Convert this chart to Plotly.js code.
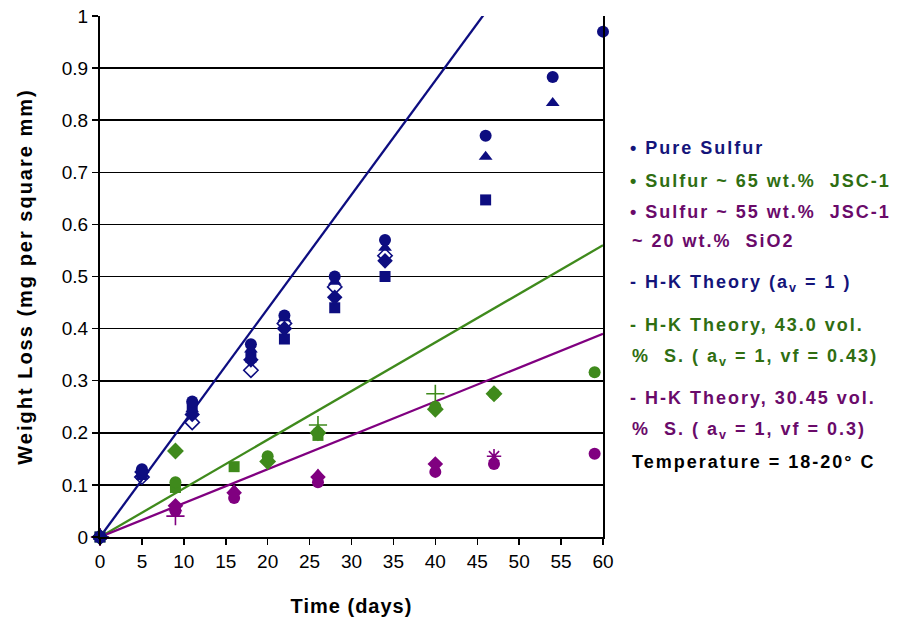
<!DOCTYPE html>
<html>
<head>
<meta charset="utf-8">
<script src="https://cdn.plot.ly/plotly-3.0.1.min.js"></script>
<style>
html,body{margin:0;padding:0;background:#fff;}
#chart{width:898px;height:622px;}
.annotation-text{letter-spacing:2px;}
.g-xtitle text{letter-spacing:1px;}
.g-ytitle text{letter-spacing:2px;}
</style>
</head>
<body>
<div id="chart"></div>
<script>
// ---- Data ----
// Pure Sulfur samples
const pureCircleDays = [0, 5, 11, 18, 22, 28, 34, 46, 54, 60];
const pureCircle     = [0, 0.13, 0.26, 0.37, 0.425, 0.50, 0.57, 0.77, 0.883, 0.97];
const pureTriDays    = [0, 5, 11, 18, 22, 28, 34, 46, 54];
const pureTri        = [0, 0.12, 0.245, 0.36, 0.42, 0.49, 0.555, 0.73, 0.833];
const pureSqDays     = [0, 5, 11, 18, 22, 28, 34, 46];
const pureSq         = [0, 0.12, 0.25, 0.345, 0.38, 0.44, 0.50, 0.647];
const pureDiaDays    = [0, 5, 11, 18, 22, 28, 34];
const pureDia        = [0, 0.125, 0.235, 0.34, 0.40, 0.46, 0.53];
const pureODiaDays   = [0, 5, 11, 18, 22, 28, 34];
const pureODia       = [0, 0.115, 0.22, 0.32, 0.41, 0.48, 0.54];
// Sulfur ~ 65 wt.% JSC-1
const g65DiaDays  = [0, 9, 20, 26, 40, 47];
const g65Dia      = [0, 0.165, 0.145, 0.20, 0.245, 0.275];
const g65CirDays  = [0, 9, 20, 26, 40, 47, 59];
const g65Cir      = [0, 0.105, 0.155, 0.20, 0.25, 0.275, 0.316];
const g65SqDays   = [0, 9, 16, 26];
const g65Sq       = [0, 0.095, 0.135, 0.195];
const g65PlusDays = [0, 26, 40];
const g65Plus     = [0, 0.215, 0.275];
// Sulfur ~ 55 wt.% JSC-1 ~ 20 wt.% SiO2
const p55CirDays  = [0, 9, 16, 26, 40, 47, 59];
const p55Cir      = [0, 0.05, 0.075, 0.105, 0.125, 0.14, 0.16];
const p55DiaDays  = [0, 9, 16, 26, 40];
const p55Dia      = [0, 0.06, 0.085, 0.115, 0.14];
const p55TriDays  = [0, 9, 16, 26];
const p55Tri      = [0, 0.055, 0.09, 0.12];
const p55PlusDays = [0, 9];
const p55Plus     = [0, 0.04];
const p55AstDays  = [47];
const p55Ast      = [0.155];
// H-K theory lines
const theoryDays   = [0, 60];
const theoryPure   = [0, 1.314];
const theory43     = [0, 0.56];
const theory30     = [0, 0.39];

const xTicks = [0, 5, 10, 15, 20, 25, 30, 35, 40, 45, 50, 55, 60];
const yTicks = [0, 0.1, 0.2, 0.3, 0.4, 0.5, 0.6, 0.7, 0.8, 0.9, 1];

const legendLines = [
  {t: "\u2022 Pure Sulfur", c: "#14147a"},
  {t: "\u2022 Sulfur ~ 65 wt.%  JSC-1", c: "#2f6e12"},
  {t: "\u2022 Sulfur ~ 55 wt.%  JSC-1", c: "#6a0a6a"},
  {t: "~ 20 wt.%  SiO2", c: "#6a0a6a"},
  {t: "- H-K Theory (a<sub>v</sub> = 1 )", c: "#14147a"},
  {t: "- H-K Theory, 43.0 vol.", c: "#2f6e12"},
  {t: "%  S. ( a<sub>v</sub> = 1, vf = 0.43)", c: "#2f6e12"},
  {t: "- H-K Theory, 30.45 vol.", c: "#6a0a6a"},
  {t: "%  S. ( a<sub>v</sub> = 1, vf = 0.3)", c: "#6a0a6a"},
  {t: "Temperature = 18-20\u00b0 C", c: "#000000"}
];
const legendY = [148, 181, 212, 241, 283, 325, 357, 398, 430, 462];

// ---- Colors ----
const NAVY = "#0d0d80", GREEN = "#3f8a1c", PURPLE = "#800080";

function mk(x, y, sym, color, size) {
  return {x: x, y: y, type: "scatter", mode: "markers", showlegend: false, cliponaxis: false,
    marker: {symbol: sym, color: color, size: size || 10, line: {color: color, width: sym.indexOf("open") >= 0 ? 1.6 : 0}}};
}
function ln(x, y, color) {
  return {x: x, y: y, type: "scatter", mode: "lines", showlegend: false, line: {color: color, width: 2.3}};
}

const traces = [
  ln(theoryDays, theoryPure, NAVY),
  ln(theoryDays, theory43, GREEN),
  ln(theoryDays, theory30, PURPLE),
  mk(g65SqDays, g65Sq, "square", GREEN, 11),
  mk(g65DiaDays, g65Dia, "diamond", GREEN, 13),
  mk(g65CirDays, g65Cir, "circle", GREEN, 12),
  mk(g65PlusDays, g65Plus, "cross-thin-open", GREEN, 13),
  mk(p55TriDays, p55Tri, "triangle-up", PURPLE, 12),
  mk(p55DiaDays, p55Dia, "diamond", PURPLE, 12),
  mk(p55CirDays, p55Cir, "circle", PURPLE, 12),
  mk(p55PlusDays, p55Plus, "cross-thin-open", PURPLE, 13),
  mk(p55AstDays, p55Ast, "asterisk-open", PURPLE, 12),
  mk(pureODiaDays, pureODia, "diamond-open", NAVY, 11),
  mk(pureSqDays, pureSq, "square", NAVY, 11),
  mk(pureDiaDays, pureDia, "diamond", NAVY, 12),
  mk(pureTriDays, pureTri, "triangle-up", NAVY, 12),
  mk(pureCircleDays, pureCircle, "circle", NAVY, 12)
];

const W = 898, H = 622, L = 100, R = 295, T = 16, B = 85;

const annotations = legendLines.map((d, i) => ({
  xref: "paper", yref: "paper",
  x: (((i === 3 || i === 6 || i === 8 || i === 9) ? 630 : 628) - L) / (W - L - R),
  y: (H - B - legendY[i]) / (H - T - B),
  showarrow: false,
  text: "<b>" + d.t + "</b>", font: {family: "Liberation Sans, Arial, sans-serif", size: 18, color: d.c},
  xanchor: "left", yanchor: "middle"
}));

const layout = {
  width: W, height: H,
  margin: {l: L, r: R, t: T, b: B, pad: 0},
  paper_bgcolor: "#ffffff", plot_bgcolor: "#ffffff",
  font: {family: "Liberation Sans, Arial, sans-serif", color: "#000"},
  xaxis: {
    range: [0, 60], tickvals: xTicks, ticks: "outside", ticklen: 6, tickwidth: 1.5, tickcolor: "#000",
    showgrid: false, zeroline: false, showline: true, linecolor: "#000", linewidth: 2,
    tickfont: {size: 19, color: "#000"},
    title: {text: "<b>Time (days)</b>", font: {size: 20, color: "#000"}, standoff: 28}
  },
  yaxis: {
    range: [0, 1], tickvals: yTicks, ticks: "outside", ticklen: 6, tickwidth: 1.5, tickcolor: "#000",
    showgrid: true, gridcolor: "#000", gridwidth: 1.6, zeroline: false,
    showline: true, mirror: true, linecolor: "#000", linewidth: 2,
    tickfont: {size: 19, color: "#000"},
    title: {text: "<b>Weight Loss (mg per square mm)</b>", font: {size: 20, color: "#000"}, standoff: 24}
  },
  annotations: annotations
};

Plotly.newPlot("chart", traces, layout, {displayModeBar: false, staticPlot: true});
</script>
</body>
</html>
